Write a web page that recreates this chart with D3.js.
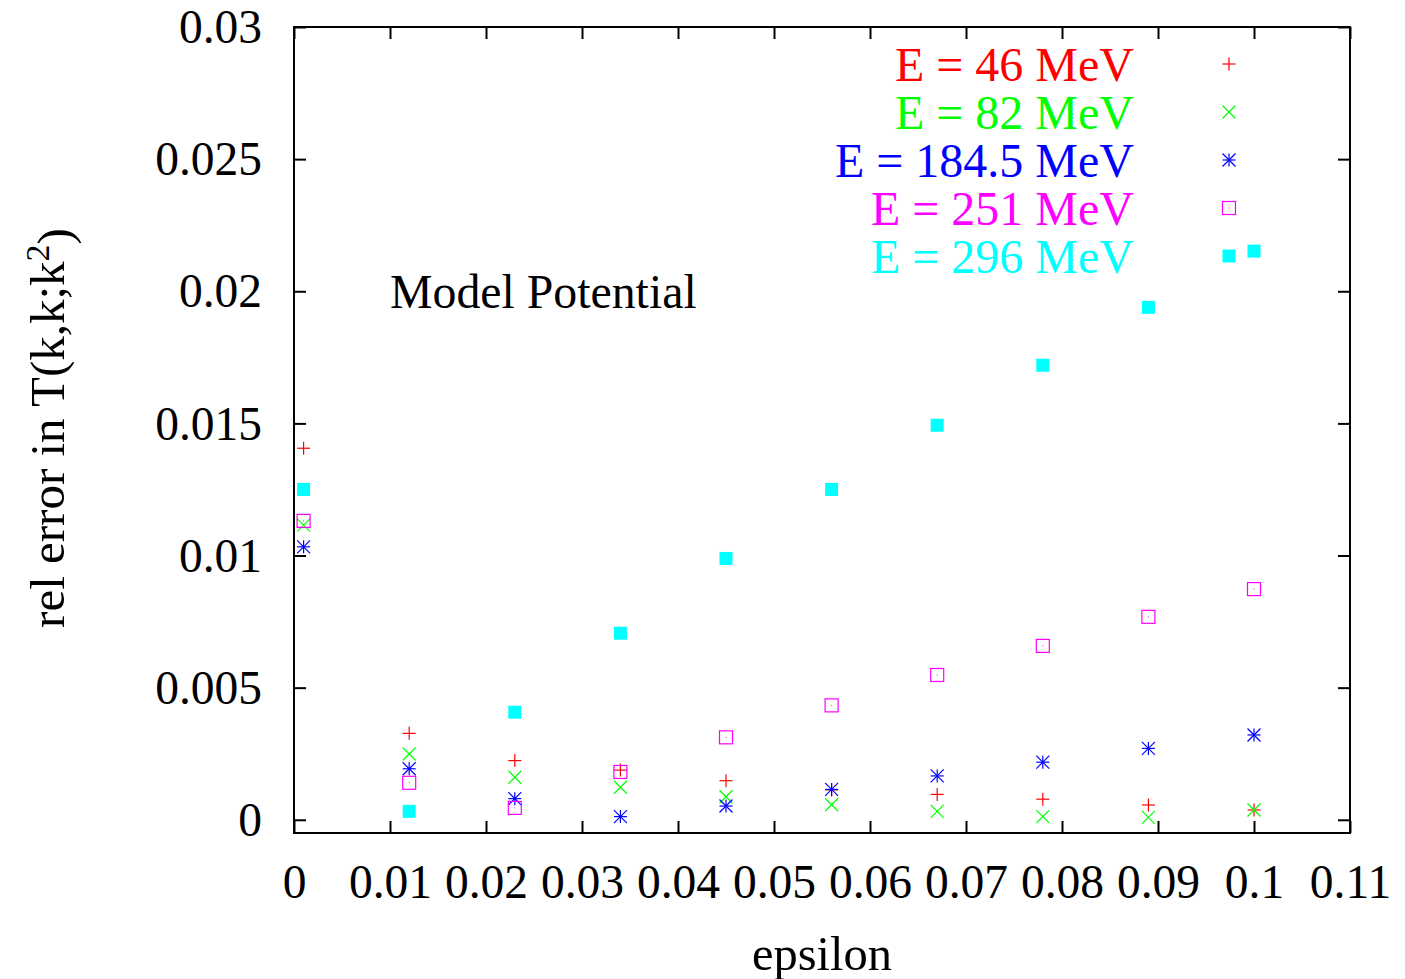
<!DOCTYPE html>
<html>
<head>
<meta charset="utf-8">
<script src="https://cdn.jsdelivr.net/npm/d3@7/dist/d3.min.js"></script>
<style>
  html, body { margin: 0; padding: 0; background: #fff; }
  svg text { font-family: "Liberation Serif", "Times New Roman", serif; }
</style>
</head>
<body>
<svg id="chart" width="1405" height="979"></svg>
<script>
// epsilon values shared by every energy
const epsilon = [0.001, 0.012, 0.023, 0.034, 0.045, 0.056, 0.067, 0.078, 0.089, 0.100];

// relative error in T(k,k;k^2) for each energy
const err46  = [0.01406, 0.00327, 0.00224, 0.00188, 0.00148, 0.00113, 0.00096, 0.00078, 0.00056, 0.00037];
const err82  = [0.01115, 0.00249, 0.00161, 0.00123, 0.00087, 0.00057, 0.00032, 0.00012, 0.00009, 0.00037];
const err184 = [0.01033, 0.00193, 0.00080, 0.00012, 0.00052, 0.00115, 0.00166, 0.00218, 0.00270, 0.00321];
const err251 = [0.01131, 0.00140, 0.00045, 0.00181, 0.00312, 0.00433, 0.00548, 0.00658, 0.00768, 0.00873];
const err296 = [0.01250, 0.00032, 0.00407, 0.00706, 0.00989, 0.01250, 0.01493, 0.01720, 0.01939, 0.02152];

const seriesLabels = ["E = 46 MeV", "E = 82 MeV", "E = 184.5 MeV", "E = 251 MeV", "E = 296 MeV"];
const seriesColors = ["#ff0000", "#00ff00", "#0000ff", "#ff00ff", "#00ffff"];
const seriesMarkers = ["plus", "cross", "star", "box", "filledbox"];
const seriesValues = [err46, err82, err184, err251, err296];

const xTicks = [0, 0.01, 0.02, 0.03, 0.04, 0.05, 0.06, 0.07, 0.08, 0.09, 0.1, 0.11];
const yTicks = [0, 0.005, 0.01, 0.015, 0.02, 0.025, 0.03];

const svg = d3.select("#chart");
const plotL = 294, plotR = 1350, plotT = 27, plotB = 833;

const x = d3.scaleLinear().domain([0, 0.11]).range([plotL, plotR]);
const y = d3.scaleLinear().domain([-0.0005, 0.03]).range([plotB, plotT]);

const fmt = d => d === 0 ? "0" : String(+d.toFixed(4));
const tickLen = 12;

// axes with inward ticks, mirrored on top and right
const gx = svg.append("g").attr("transform", `translate(0,${plotB})`)
  .call(d3.axisBottom(x).tickValues(xTicks).tickSize(-tickLen).tickPadding(33).tickFormat(fmt));
const gxTop = svg.append("g").attr("transform", `translate(0,${plotT})`)
  .call(d3.axisTop(x).tickValues(xTicks).tickSize(-tickLen).tickFormat(""));
const gy = svg.append("g").attr("transform", `translate(${plotL},0)`)
  .call(d3.axisLeft(y).tickValues(yTicks).tickSize(-tickLen).tickPadding(32).tickFormat(fmt));
const gyRight = svg.append("g").attr("transform", `translate(${plotR},0)`)
  .call(d3.axisRight(y).tickValues(yTicks).tickSize(-tickLen).tickFormat(""));

[gx, gxTop, gy, gyRight].forEach(g => {
  g.select(".domain").remove();
  g.selectAll(".tick line").attr("stroke", "#000").attr("stroke-width", 2);
  g.selectAll(".tick text").attr("fill", "#000").style("font-size", "47.5px")
    .style("font-family", "'Liberation Serif', 'Times New Roman', serif");
});
gy.selectAll(".tick text").attr("dy", "0.33em");
gx.selectAll(".tick text").attr("dy", "0.68em");

// plot border
svg.append("rect")
  .attr("x", plotL).attr("y", plotT)
  .attr("width", plotR - plotL).attr("height", plotB - plotT)
  .attr("fill", "none").attr("stroke", "#000").attr("stroke-width", 2);

// axis titles
svg.append("text")
  .attr("x", 822).attr("y", 970)
  .attr("text-anchor", "middle").style("font-size", "48.5px").text("epsilon");

const yl = svg.append("text")
  .attr("transform", "translate(64,428) rotate(-90)")
  .attr("text-anchor", "middle").style("font-size", "49px");
yl.append("tspan").text("rel error in T(k,k;k");
yl.append("tspan").attr("dy", "-0.45em").style("font-size", "34px").text("2");
yl.append("tspan").attr("dy", "0.45em").text(")");

svg.append("text")
  .attr("x", 390).attr("y", 308)
  .style("font-size", "47.8px").text("Model Potential");

// point marker drawing
const h = 6.5;
function drawMarker(g, type, cx, cy, color) {
  const sw = 1.2;
  if (type === "plus" || type === "star") {
    g.append("line").attr("x1", cx - h).attr("x2", cx + h).attr("y1", cy).attr("y2", cy)
      .attr("stroke", color).attr("stroke-width", sw);
    g.append("line").attr("x1", cx).attr("x2", cx).attr("y1", cy - h).attr("y2", cy + h)
      .attr("stroke", color).attr("stroke-width", sw);
  }
  if (type === "cross" || type === "star") {
    g.append("line").attr("x1", cx - h).attr("x2", cx + h).attr("y1", cy - h).attr("y2", cy + h)
      .attr("stroke", color).attr("stroke-width", sw);
    g.append("line").attr("x1", cx - h).attr("x2", cx + h).attr("y1", cy + h).attr("y2", cy - h)
      .attr("stroke", color).attr("stroke-width", sw);
  }
  if (type === "box") {
    g.append("rect").attr("x", cx - h).attr("y", cy - h).attr("width", 2 * h).attr("height", 2 * h)
      .attr("fill", "none").attr("stroke", color).attr("stroke-width", sw);
    g.append("rect").attr("x", cx - 0.5).attr("y", cy - 0.5).attr("width", 1).attr("height", 1)
      .attr("fill", color);
  }
  if (type === "filledbox") {
    g.append("rect").attr("x", cx - h).attr("y", cy - h).attr("width", 2 * h).attr("height", 2 * h)
      .attr("fill", color);
  }
}

const marks = svg.append("g");
seriesValues.forEach((vals, si) => {
  const g = marks.append("g");
  vals.forEach((v, i) => drawMarker(g, seriesMarkers[si], x(epsilon[i]), y(v), seriesColors[si]));
});

// legend
const legendY = [64, 112, 160, 208, 256];
seriesLabels.forEach((label, i) => {
  svg.append("text")
    .attr("x", 1134).attr("y", legendY[i]).attr("dy", "0.35em")
    .attr("text-anchor", "end").attr("fill", seriesColors[i])
    .style("font-size", "48px").text(label);
  drawMarker(svg.append("g"), seriesMarkers[i], 1229, legendY[i], seriesColors[i]);
});
</script>
</body>
</html>
